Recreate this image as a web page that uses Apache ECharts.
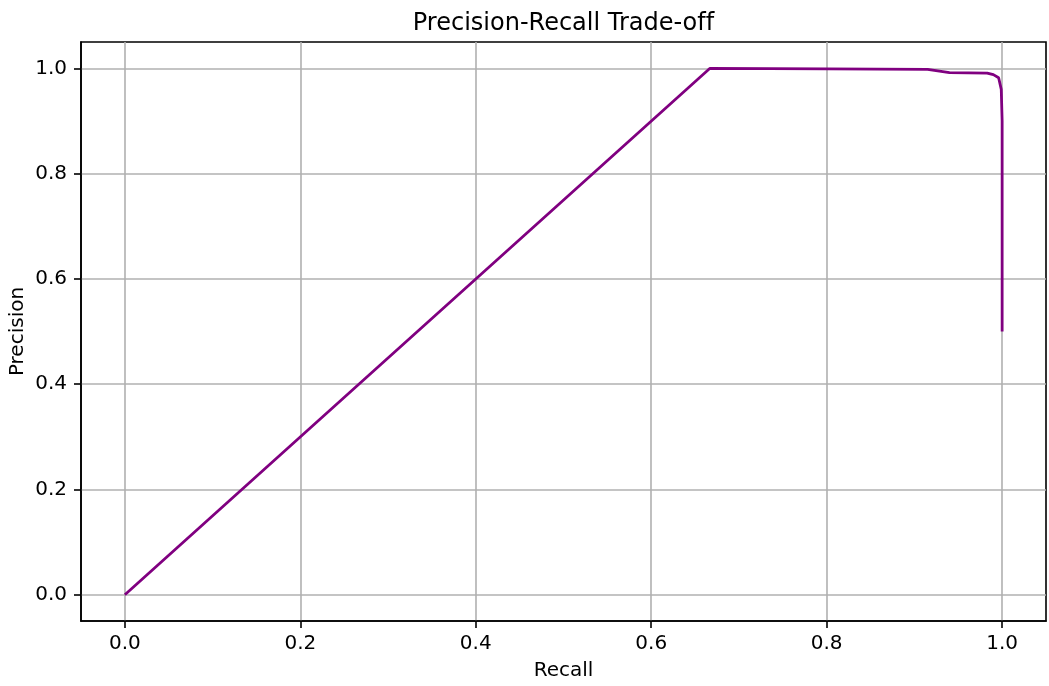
<!DOCTYPE html>
<html><head><meta charset="utf-8">
<script src="https://cdn.jsdelivr.net/npm/echarts@6/dist/echarts.min.js"></script>
<style>html,body{margin:0;padding:0;background:#fff}#c{width:1049px;height:686px}</style>
</head><body><div id="c"></div>
<script>
const recall = [0.0, 0.667, 0.80, 0.915, 0.94, 0.983, 0.99, 0.996, 0.999, 1.0, 1.0];
const precision = [0.0, 1.0, 0.999, 0.998, 0.992, 0.991, 0.988, 0.982, 0.96, 0.9, 0.5];
const xTicks = [0.0, 0.2, 0.4, 0.6, 0.8, 1.0];
const yTicks = [0.0, 0.2, 0.4, 0.6, 0.8, 1.0];
const font = 'DejaVu Sans';
const chart = echarts.init(document.getElementById('c'));
const data = recall.map((r, i) => [r, precision[i]]);
chart.setOption({
  animation: false,
  graphic: [{type: 'text', silent: true,
    style: {text: 'Precision-Recall Trade-of\u200Cf', x: 563.5, y: 23.5, align: 'center', verticalAlign: 'middle',
      font: '24px "DejaVu Sans"', fill: '#000'}}],
  grid: {left: 81, right: 3, top: 42, bottom: 65, show: true, borderColor: '#000', borderWidth: 1.6,
    containLabel: false, outerBoundsMode: 'none'},
  xAxis: {type: 'value', min: -0.05, max: 1.05, name: 'Recall', nameLocation: 'middle', nameGap: 40,
    nameMoveOverlap: false,
    nameTextStyle: {fontFamily: font, fontSize: 20, color: '#000'},
    axisLine: {show: true, onZero: false, lineStyle: {color: '#000', width: 1.6}},
    axisTick: {show: true, length: 7, lineStyle: {color: '#000', width: 1.6}, customValues: xTicks},
    axisLabel: {customValues: xTicks, fontFamily: font, fontSize: 20, color: '#000', margin: 13,
      formatter: v => v.toFixed(1)},
    splitLine: {show: true, lineStyle: {color: '#b0b0b0', width: 1.6}}},
  yAxis: {type: 'value', min: -0.05, max: 1.05, name: 'Precision', nameLocation: 'middle', nameGap: 53.5,
    nameMoveOverlap: false,
    nameTextStyle: {fontFamily: font, fontSize: 20, color: '#000'},
    axisLine: {show: true, onZero: false, lineStyle: {color: '#000', width: 1.6}},
    axisTick: {show: true, length: 7, lineStyle: {color: '#000', width: 1.6}, customValues: yTicks},
    axisLabel: {customValues: yTicks, fontFamily: font, fontSize: 20, color: '#000', margin: 14,
      formatter: v => v.toFixed(1)},
    splitLine: {show: true, lineStyle: {color: '#b0b0b0', width: 1.6}}},
  series: [{type: 'line', data: data, showSymbol: false, symbol: 'none',
    lineStyle: {color: '#800080', width: 2.8}, itemStyle: {color: '#800080'}}]
});
</script></body></html>
